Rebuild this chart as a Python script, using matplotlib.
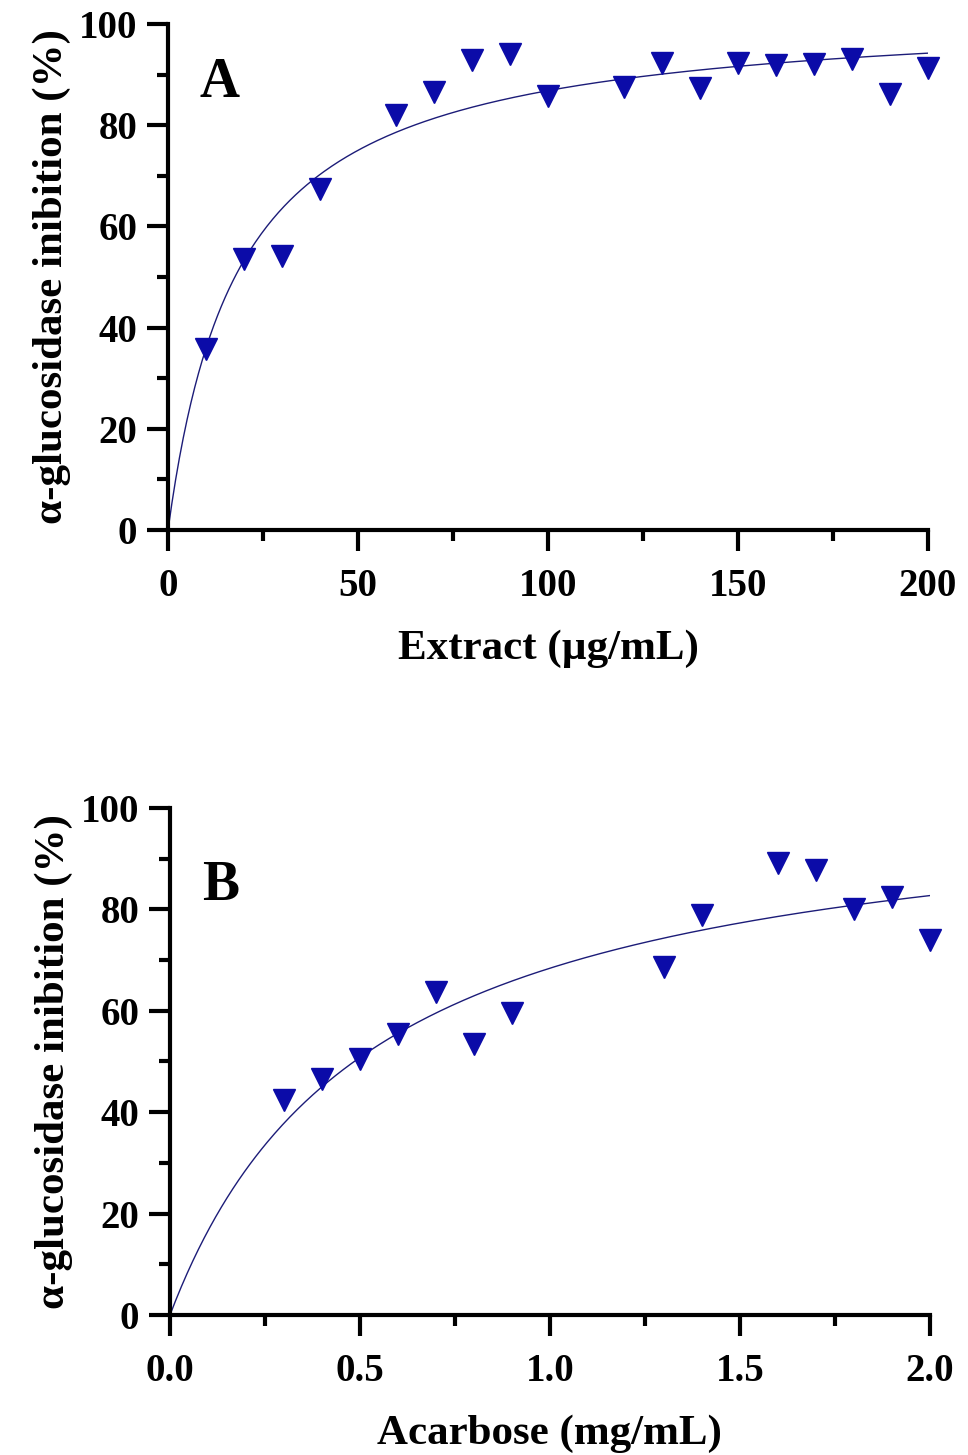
import numpy as np
import matplotlib
matplotlib.use("Agg")
import matplotlib.pyplot as plt
from matplotlib.ticker import MultipleLocator, FormatStrFormatter

# panel A: extract concentration (ug/mL) vs inhibition (%)
extract_conc = [10, 20, 30, 40, 60, 70, 80, 90, 100, 120, 130, 140, 150, 160, 170, 180, 190, 200]
extract_inhib = [35.8, 53.6, 54.2, 67.4, 82.0, 86.6, 92.9, 94.1, 85.8, 87.6, 92.2, 87.4,
                 92.2, 91.9, 92.0, 93.1, 86.2, 91.3]

# panel B: acarbose concentration (mg/mL) vs inhibition (%)
acarbose_conc = [0.3, 0.4, 0.5, 0.6, 0.7, 0.8, 0.9, 1.3, 1.4, 1.6, 1.7, 1.8, 1.9, 2.0]
acarbose_inhib = [42.4, 46.6, 50.4, 55.5, 63.8, 53.5, 59.5, 68.7, 78.8, 89.2, 87.8, 80.0, 82.5, 74.0]

plt.rcParams['font.family'] = ['Liberation Serif', 'DejaVu Serif']
plt.rcParams['font.weight'] = 'bold'

marker_color = '#0b0ba8'
line_color = '#1c1c78'


def fit_hyperbola(x, y, kmax):
    # y = vmax * x / (k + x); scan k, vmax by least squares
    x = np.asarray(x, float)
    y = np.asarray(y, float)
    best = None
    for k in np.linspace(kmax / 2000, kmax, 4000):
        f = x / (k + x)
        v = (f @ y) / (f @ f)
        err = np.sum((y - v * f) ** 2)
        if best is None or err < best[0]:
            best = (err, k, v)
    return best[1], best[2]


def panel(ax, x, y, xmax, xmajor, xfmt, xlabel, letter, letter_y):
    k, v = fit_hyperbola(x, y, xmax)
    xs = np.linspace(0, xmax, 400)
    ax.plot(xs, v * xs / (k + xs), color=line_color, lw=1.0, zorder=2)
    ax.plot(x, y, 'v', color=marker_color, ms=16, mec=marker_color, zorder=3,
            clip_on=False)

    ax.set_xlim(0, xmax)
    ax.set_ylim(0, 100)
    ax.xaxis.set_major_locator(MultipleLocator(xmajor))
    ax.xaxis.set_minor_locator(MultipleLocator(xmajor / 2))
    ax.xaxis.set_major_formatter(FormatStrFormatter(xfmt))
    ax.yaxis.set_major_locator(MultipleLocator(20))
    ax.yaxis.set_minor_locator(MultipleLocator(10))

    ax.spines[['right', 'top']].set_visible(False)
    for s in ['left', 'bottom']:
        ax.spines[s].set_linewidth(3)
    ax.tick_params(which='major', direction='out', length=15, width=3,
                   labelsize=28, pad=7)
    ax.tick_params(axis='x', which='major', pad=12)
    ax.tick_params(which='minor', direction='out', length=8, width=3)

    ax.set_xlabel(xlabel, fontsize=31, fontweight='bold', labelpad=18)
    ax.set_ylabel('α-glucosidase inibition (%)', fontsize=31,
                  fontweight='bold', labelpad=6)
    ax.text(0.042, letter_y, letter, transform=ax.transAxes, fontsize=40,
            fontweight='bold', ha='left', va='baseline')


fig = plt.figure(figsize=(9.68, 14.55), dpi=100)
ax_a = fig.add_axes([0.1736, 0.6357, 0.785, 0.3478])
ax_b = fig.add_axes([0.1756, 0.0962, 0.785, 0.3485])

panel(ax_a, extract_conc, extract_inhib, 200, 50, '%d', 'Extract (µg/mL)', 'A', 0.855)
panel(ax_b, acarbose_conc, acarbose_inhib, 2.0, 0.5, '%.1f', 'Acarbose (mg/mL)', 'B', 0.818)

fig.savefig('out.png', dpi=100)
